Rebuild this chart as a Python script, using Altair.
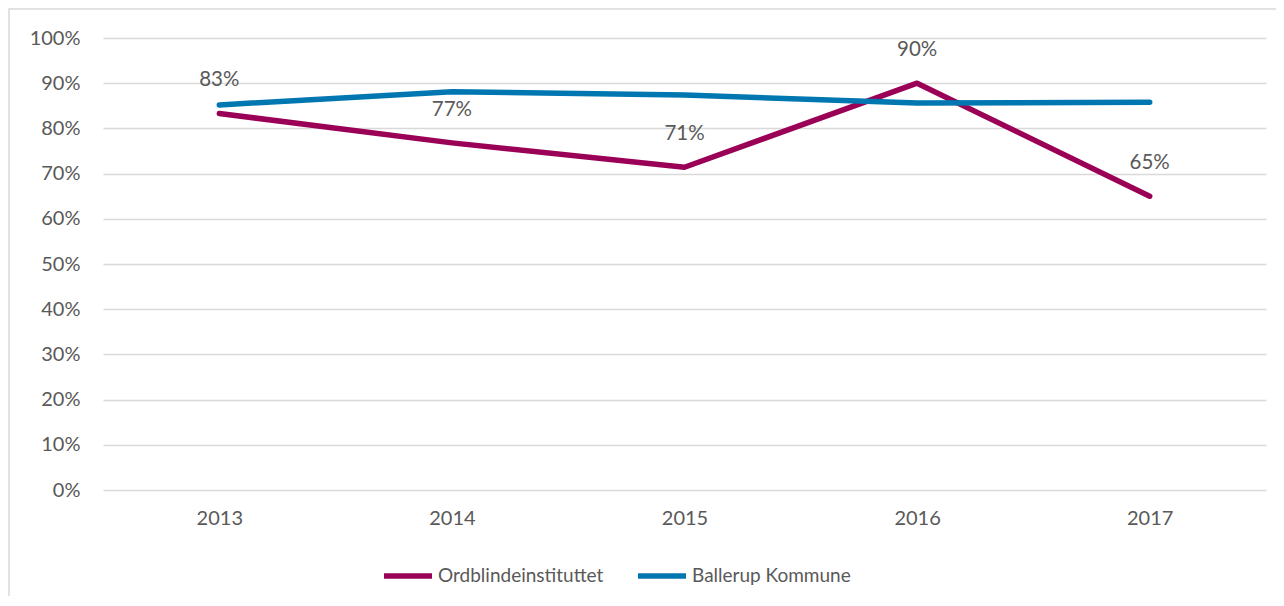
import altair as alt
import pandas as pd

years = ["2013", "2014", "2015", "2016", "2017"]
ordblinde = [83.3, 76.8, 71.4, 90.0, 65.0]
ballerup = [85.2, 88.1, 87.4, 85.6, 85.8]
ordblinde_labels = ["83%", "77%", "71%", "90%", "65%"]
series_names = ["Ordblindeinstituttet", "Ballerup Kommune"]
series_colors = ["#9a0056", "#0077b0"]

rows = []
for y, v, l in zip(years, ordblinde, ordblinde_labels):
    rows.append({"year": y, "value": v / 100, "series": series_names[0], "label": l})
for y, v in zip(years, ballerup):
    rows.append({"year": y, "value": v / 100, "series": series_names[1], "label": ""})
df = pd.DataFrame(rows)

W, H = 1163, 452
FONT = "Lato"
GREY = "#595959"

x_enc = alt.X("year:O", sort=years, scale=alt.Scale(type="point", padding=0.5),
              axis=alt.Axis(title=None, labelAngle=0, domain=False, ticks=False, grid=False,
                            labelPadding=18, labelFontSize=20, labelColor=GREY, labelFont=FONT))
y_enc = alt.Y("value:Q", scale=alt.Scale(domain=[0, 1], nice=False),
              axis=alt.Axis(title=None, format=".0%", values=[i / 10 for i in range(11)],
                            domain=False, ticks=False, gridColor="#d9d9d9", gridWidth=1.3,
                            labelPadding=23, labelFontSize=20, labelColor=GREY, labelFont=FONT))

base = alt.Chart(df)

frame = alt.Chart(pd.DataFrame({"a": [0]})).mark_rect(
    fill=None, stroke="#d9d9d9", strokeWidth=1.5
).encode(x=alt.value(-94), x2=alt.value(W + 200), y=alt.value(-29), y2=alt.value(H + 300))

lines = base.mark_line(strokeWidth=5.5, strokeCap="round", strokeJoin="round").encode(
    x=x_enc, y=y_enc,
    color=alt.Color("series:N", sort=series_names,
                    scale=alt.Scale(domain=series_names, range=series_colors),
                    legend=alt.Legend(title=None, orient="none", direction="horizontal",
                                      legendX=278, legendY=511,
                                      symbolType="stroke", symbolSize=2304, symbolStrokeWidth=5.5,
                                      labelFontSize=19, labelColor=GREY, labelFont=FONT,
                                      labelLimit=400, labelOffset=3, columnPadding=23)),
    detail="series:N",
)

labels = base.transform_filter(alt.datum.label != "").mark_text(
    dy=-33, fontSize=20.5, color=GREY, font=FONT, baseline="middle", align="center"
).encode(x=alt.X("year:O", sort=years), y="value:Q", text="label:N")

chart = alt.layer(frame, lines, labels).properties(
    width=W, height=H,
    autosize=alt.AutoSizeParams(type="none"),
    padding={"left": 95, "top": 30, "right": 10, "bottom": 106},
).configure_view(stroke=None)

chart.save("out.html", embed_options={"renderer": "svg", "actions": False})
